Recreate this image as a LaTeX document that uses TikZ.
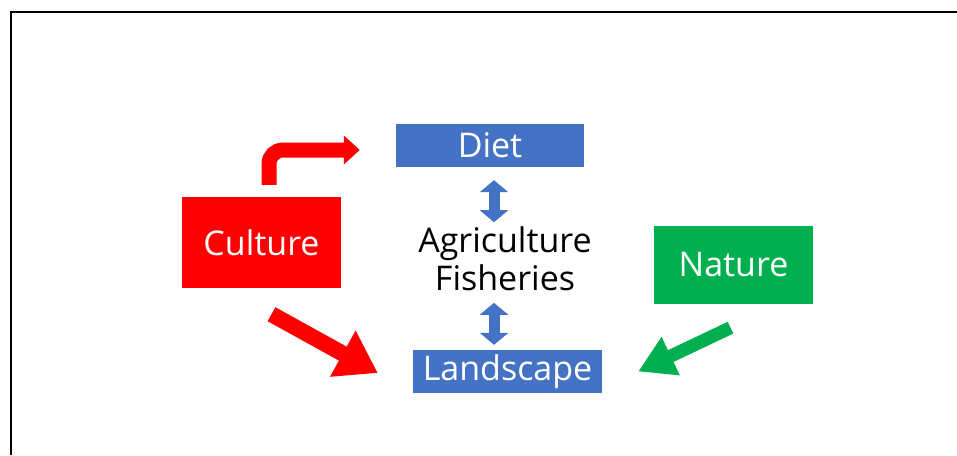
\documentclass[tikz,border=0pt]{standalone}
\usepackage{fontspec}
\setmainfont{Open Sans}
\usetikzlibrary{arrows.meta,positioning}
\definecolor{boxblue}{RGB}{68,114,196}
\definecolor{boxred}{RGB}{255,0,0}
\definecolor{boxgreen}{RGB}{0,176,80}

\begin{document}
\begin{tikzpicture}[
  x=1pt, y=-1pt,
  box/.style={inner sep=0pt, align=center, text=white, font=\fontsize{34}{38}\selectfont},
  bluebox/.style={box, fill=boxblue, minimum width=188pt, minimum height=43pt},
  redbox/.style={box, fill=boxred, minimum width=159pt, minimum height=91pt},
  greenbox/.style={box, fill=boxgreen, minimum width=159pt, minimum height=78pt},
  midtext/.style={inner sep=0pt, align=center, font=\fontsize{34}{38}\selectfont},
  bentarrow/.style={boxred, line width=15pt, rounded corners=14pt, -{Triangle[length=16pt, width=28pt]}},
  redarrow/.style={boxred, line width=16pt, -{Triangle[length=40pt, width=50pt]}},
  greenarrow/.style={boxgreen, line width=13pt, -{Triangle[length=36pt, width=40pt]}},
  dblarrow/.style={boxblue, line width=11pt, {Triangle[length=12pt, width=28pt]}-{Triangle[length=12pt, width=28pt]}}
]
\useasboundingbox (0,0) rectangle (957,455);
\draw[line width=1.5pt] (11,455) -- (11,12) -- (957,12);

\node[bluebox] (diet) at (490,145.5) {Diet};
\node[bluebox, minimum width=189pt] (landscape) at (507.5,371.5) {Landscape};
\node[redbox] (culture) at (261.5,242.5) {Culture};
\node[greenbox] (nature) at (733.5,264.5) {Nature};
\node[midtext] (agri) at (505,259) {Agriculture\\Fisheries};

\draw[bentarrow] ([xshift=7.5pt, yshift=12pt]culture.north) |- ([xshift=-36pt, yshift=-4.5pt]diet.west);
\draw[redarrow] ([xshift=10pt, yshift=-26pt]culture.south) -- ([xshift=-35pt, yshift=-1.5pt]landscape.west);
\draw[greenarrow] ([xshift=-3pt, yshift=-24pt]nature.south) -- ([xshift=36pt]landscape.east);
\draw[dblarrow] ([xshift=4pt, yshift=-13pt]diet.south) -- ([xshift=4pt, yshift=-55pt]diet.south);
\draw[dblarrow] ([xshift=-13.5pt, yshift=47pt]landscape.north) -- ([xshift=-13.5pt, yshift=5pt]landscape.north);
\end{tikzpicture}
\end{document}
